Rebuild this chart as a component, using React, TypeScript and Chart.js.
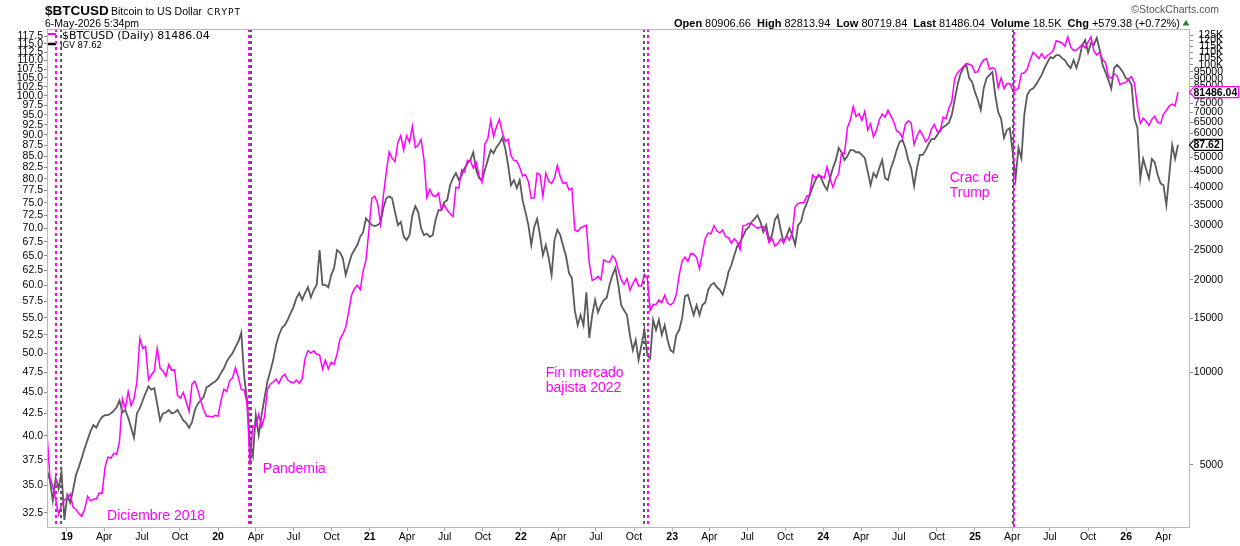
import React, { useEffect, useRef } from 'react';
import { Chart, registerables } from 'chart.js';

Chart.register(...registerables);

const FONT = "'Liberation Sans', Arial, Helvetica, sans-serif";
const LEGEND_FONT = "'DejaVu Sans', Verdana, sans-serif";
const MAGENTA = '#ff00ff';
const DARK = '#5a5a5a';

// ---- data ----
const START_DATE = '2018-11-14';
const STEP_DAYS = 7;

// $BTCUSD weekly closes
const btcValues = [
  6350, 4550, 4250, 3850, 3450, 3700, 3850,
  3900, 4020, 3640, 3580, 3470, 3400, 3590, 3950, 3820, 3870, 3870, 4050, 4040,
  4900, 5300, 5250, 5450, 5400, 5950, 8200, 7650, 8650, 7800, 8200, 9300, 12900,
  11950, 12100, 9450, 9800, 10100, 11950, 10300, 10100, 9700, 10600, 10150, 10200, 8400,
  8250, 8600, 8000, 7450, 9150, 9350, 8750, 8100, 7550, 7200, 7200, 7150, 7250,
  7200, 8100, 8800, 8650, 9400, 9600, 10350, 9600, 8800, 8760, 7900, 5000, 6700,
  6650, 7300, 6650, 7150, 8800, 9150, 9300, 9500, 9200, 9650, 9850, 9450, 9300,
  9230, 9430, 9200, 9550, 11100, 11750, 11550, 11750, 11450, 11400, 10250, 10950, 10250,
  10780, 10600, 11450, 12800, 13300, 14000, 15700, 17800, 18700, 19200, 18550, 21300, 23250,
  28900,
  36800, 37400, 35500, 30400, 37600, 44800, 52100, 49700, 48400, 55900, 58900, 52800,
  58800, 56000, 63100, 53800, 54800, 57200, 49200, 37000, 39300, 37600, 37300, 38300, 33700,
  35000, 33700, 32800, 32100, 40000, 39700, 45600, 44800, 48900, 48800, 46100, 48100, 43500,
  41500, 55300, 57400, 65900, 58400, 62900, 66500, 60300, 56300, 57200, 50600, 48900, 48600,
  46400,
  43500, 43900, 41700, 36800, 36900, 44400, 43900, 37300, 44400, 41900, 41100, 42900,
  47100, 43200, 41100, 41500, 39200, 39700, 29000, 28700, 29500, 29800, 30100, 22600, 19900,
  20100, 20500, 20000, 23200, 22900, 22800, 23900, 23300, 21500, 20000, 19300, 20200, 18500,
  19400, 20200, 19100, 19100, 20800, 20200, 15900, 16600, 16600, 17200, 16850, 17800, 16800,
  16550,
  16850, 17900, 20700, 23000, 23700, 22950, 24300, 24200, 23600, 21700, 24400, 27300,
  28350, 28200, 30000, 28800, 28400, 29000, 27600, 27400, 26300, 27200, 26500, 25100, 30000,
  30100, 30500, 30400, 29900, 29400, 29700, 29800, 28700, 26400, 27300, 25750, 26200, 27100,
  26350, 27800, 26900, 28400, 34500, 35400, 35600, 35600, 37400, 37800, 43800, 42900, 43700,
  43400,
  42800, 46600, 42700, 40000, 42600, 44300, 51800, 51300, 62400, 66100, 73100, 67900,
  69400, 66000, 70600, 61300, 64300, 58300, 61200, 66300, 69200, 67600, 71100, 68200, 65200,
  60800, 60200, 57800, 64100, 65800, 64600, 55100, 58700, 61200, 59000, 56200, 57600, 61800,
  64000, 60600, 60600, 67600, 66700, 72300, 75900, 90500, 94300, 96400, 98800, 101100, 100200,
  99400,
  94400, 95000, 100500, 103700, 104700, 96600, 97900, 96600, 84300, 90600, 83700, 86900,
  86900, 82500, 82600, 84000, 93700, 94200, 96800, 103500, 109700, 107800, 104700, 108700, 104900,
  107300, 108800, 111300, 119800, 118800, 117800, 114900, 123300, 114300, 111200, 111700, 113900, 116500,
  113300, 118600, 123300, 111000, 107600, 110000, 103900, 101600, 91500, 90500, 93400, 92000, 86200,
  87300, 87500,
  90000, 91500, 87000, 73000, 64500, 67000, 65500, 63500, 66500, 68000, 65000, 64500, 69000,
  71000, 73500, 74500, 73500, 81486.04,
];

// IGV weekly closes
const igvValues = [
  36.4, 35.5, 33.6, 35.7, 34.7, 36.3, 31.9,
  34.1, 33.4, 34.6, 36.0, 36.8, 37.7, 38.7, 39.6, 40.5, 41.2, 40.9, 41.6, 42.1,
  42.3, 42.3, 42.5, 42.8, 43.2, 44.0, 42.6, 42.9, 42.0, 40.9, 39.8, 42.5, 43.1,
  44.0, 44.9, 45.7, 45.3, 45.5, 43.6, 41.7, 42.5, 42.6, 42.9, 42.5, 42.6, 42.9,
  42.3, 41.7, 41.4, 40.9, 41.5, 42.9, 43.6, 44.0, 44.4, 45.6, 45.8, 46.1, 46.3,
  46.7, 47.4, 48.0, 48.9, 49.5, 50.0, 50.8, 51.6, 52.8, 47.0, 44.0, 39.3, 37.9,
  42.3, 40.1, 42.3, 44.3, 46.3, 47.6, 49.1, 51.1, 52.5, 53.5, 53.9, 54.7, 55.7,
  56.6, 58.0, 58.8, 57.7, 58.8, 59.7, 58.1, 59.3, 60.1, 66.0, 60.1, 60.1, 59.7,
  61.7, 62.9, 66.0, 65.6, 64.6, 61.7, 63.4, 65.1, 66.0, 66.9, 68.4, 69.2, 71.9,
  71.2, 70.6, 70.4, 70.6, 71.0, 73.9, 75.9, 76.3, 75.9, 73.1, 70.6, 71.2, 68.5,
  67.8, 68.7, 72.5, 74.3, 73.1, 70.0, 68.7, 69.0, 68.4, 68.7, 71.6, 73.5, 73.5,
  75.1, 75.5, 78.6, 80.1, 81.2, 79.7, 80.8, 82.3, 83.4, 84.1, 85.9, 81.9, 80.1,
  79.7, 81.9, 84.1, 86.4, 85.7, 87.1, 88.0, 89.3, 86.9, 83.0, 78.6, 79.7, 78.0,
  79.7, 75.5, 73.1, 70.6, 66.9, 70.2, 71.8, 68.7, 65.1, 66.9, 64.6, 61.7, 67.8,
  69.7, 68.7, 66.7, 64.9, 62.0, 61.2, 56.1, 53.9, 55.4, 53.9, 58.9, 52.1, 55.4,
  57.7, 55.8, 56.9, 57.7, 58.0, 60.1, 61.7, 62.9, 60.1, 56.9, 56.1, 55.4, 52.5,
  50.4, 51.8, 49.1, 51.1, 53.2, 49.7, 49.3, 54.7, 53.2, 54.7, 52.5, 53.9, 51.8,
  50.4, 50.1, 52.5, 53.2, 54.9, 58.3, 58.5, 56.9, 55.4, 56.9, 55.4, 56.9, 57.3,
  59.3, 60.1, 60.4, 59.7, 59.3, 58.5, 60.1, 62.2, 63.4, 65.1, 66.7, 67.4, 68.5,
  69.7, 70.2, 71.2, 71.8, 72.5, 71.2, 69.3, 70.6, 67.8, 68.7, 71.6, 72.5, 69.7,
  67.4, 68.5, 70.0, 68.7, 66.9, 70.6, 71.2, 73.5, 74.9, 76.5, 78.2, 79.7, 80.8,
  80.1, 78.6, 77.6, 80.1, 82.3, 84.1, 86.9, 85.9, 84.1, 85.0, 86.4, 86.4, 85.9,
  85.9, 85.3, 84.6, 81.6, 78.6, 81.2, 80.3, 82.3, 84.1, 80.1, 79.7, 82.3, 84.1,
  86.4, 88.3, 88.8, 86.9, 84.1, 82.3, 78.4, 82.3, 85.3, 85.3, 86.4, 87.8, 89.0,
  89.0, 90.0, 91.2, 91.9, 92.4, 93.0, 95.0, 98.9, 103.0, 106.1, 107.8, 108.7, 104.9,
  103.8, 101.0, 98.9, 96.3, 102.0, 104.9, 105.8, 106.6, 100.2, 95.7, 94.0, 89.3, 91.2,
  91.7, 86.0, 80.0, 87.0, 84.5, 95.0, 100.2, 101.6, 102.0, 103.0, 104.4, 105.8, 107.8,
  109.5, 111.0, 110.7, 111.6, 111.6, 110.7, 110.1, 108.7, 107.8, 110.1, 107.8, 110.7, 114.7,
  116.2, 112.4, 115.3, 114.7, 116.9, 113.2, 108.7, 106.6, 104.4, 102.0, 107.8, 108.7, 107.8,
  106.6, 104.9,
  104.4, 103.0, 94.0, 91.7, 80.0, 84.4, 82.1, 80.0, 84.4, 83.6, 80.8, 79.0, 78.6,
  74.5, 80.8, 87.6, 84.4, 87.62,
];

const xTickDates = [
  '2019-01-01', '2019-04-01', '2019-07-01', '2019-10-01',
  '2020-01-01', '2020-04-01', '2020-07-01', '2020-10-01',
  '2021-01-01', '2021-04-01', '2021-07-01', '2021-10-01',
  '2022-01-01', '2022-04-01', '2022-07-01', '2022-10-01',
  '2023-01-01', '2023-04-01', '2023-07-01', '2023-10-01',
  '2024-01-01', '2024-04-01', '2024-07-01', '2024-10-01',
  '2025-01-01', '2025-04-01', '2025-07-01', '2025-10-01',
  '2026-01-01', '2026-04-01',
];
const xTickLabels = [
  '19', 'Apr', 'Jul', 'Oct', '20', 'Apr', 'Jul', 'Oct', '21', 'Apr', 'Jul', 'Oct',
  '22', 'Apr', 'Jul', 'Oct', '23', 'Apr', 'Jul', 'Oct', '24', 'Apr', 'Jul', 'Oct',
  '25', 'Apr', 'Jul', 'Oct', '26', 'Apr',
];
const leftTicks = [
  32.5, 35, 37.5, 40, 42.5, 45, 47.5, 50, 52.5, 55, 57.5, 60, 62.5, 65, 67.5, 70, 72.5,
  75, 77.5, 80, 82.5, 85, 87.5, 90, 92.5, 95, 97.5, 100, 102.5, 105, 107.5, 110, 112.5, 115, 117.5,
];
const rightTicks = [
  5000, 10000, 15000, 20000, 25000, 30000, 35000, 40000, 45000, 50000, 55000, 60000, 65000,
  70000, 75000, 80000, 85000, 90000, 95000, 100000, 105000, 110000, 115000, 120000, 125000,
];

const eventLines = [
  { date: '2018-12-05', color: MAGENTA, offset: 0 },
  { date: '2018-12-17', color: DARK, offset: 0 },
  { date: '2020-03-16', color: MAGENTA, offset: 0 },
  { date: '2020-03-20', color: DARK, offset: 0 },
  { date: '2022-10-25', color: DARK, offset: 0 },
  { date: '2022-11-03', color: MAGENTA, offset: 0 },
  { date: '2025-04-03', color: DARK, offset: 0 },
  { date: '2025-04-04', color: MAGENTA, offset: 3 },
];

const annotations = [
  { date: '2019-04-08', btc: 3410, lines: ['Diciembre 2018'] },
  { date: '2020-04-18', btc: 4848, lines: ['Pandemia'] },
  { date: '2022-03-02', btc: 9948, lines: ['Fin mercado', 'bajista 2022'] },
  { date: '2024-11-01', btc: 42840, lines: ['Crac de', 'Trump'] },
];

const headerStats = [
  ['Open', '80906.66'], ['High', '82813.94'], ['Low', '80719.84'],
  ['Last', '81486.04'], ['Volume', '18.5K'], ['Chg', '+579.38 (+0.72%)'],
];

// ---- helpers ----
const EPOCH = Date.UTC(2019, 0, 1);
function dayOf(iso: string): number {
  const [y, m, d] = iso.split('-').map(Number);
  return Math.round((Date.UTC(y, m - 1, d) - EPOCH) / 86400000);
}
const startDay = dayOf(START_DATE);
const weekDays = btcValues.map((_, i) => startDay + i * STEP_DAYS);
const X_MIN = dayOf('2018-11-14');
const X_MAX = dayOf('2026-06-04');

const lastBtc = btcValues[btcValues.length - 1];
const lastIgv = igvValues[igvValues.length - 1];

function drawValueBox(ctx: CanvasRenderingContext2D, y: number, x0: number, x1: number, text: string, color: string) {
  const h = 5.5;
  ctx.beginPath();
  ctx.moveTo(x0, y);
  ctx.lineTo(x0 + 5, y - h);
  ctx.lineTo(x1, y - h);
  ctx.lineTo(x1, y + h);
  ctx.lineTo(x0 + 5, y + h);
  ctx.closePath();
  ctx.fillStyle = '#ffffff';
  ctx.fill();
  ctx.strokeStyle = color;
  ctx.lineWidth = 1.2;
  ctx.setLineDash([]);
  ctx.stroke();
  ctx.fillStyle = '#000';
  ctx.font = `bold 10.5px ${FONT}`;
  ctx.textAlign = 'left';
  ctx.textBaseline = 'middle';
  ctx.fillText(text, x0 + 4, y + 0.5);
}

const overlayPlugin = {
  id: 'overlay',
  afterDatasetsDraw(chart: any) {
    const { ctx, chartArea: a, scales } = chart;
    const sx = scales.x;
    const yR = scales.yR;
    ctx.save();
    // legend
    ctx.setLineDash([]);
    ctx.lineWidth = 2;
    ctx.strokeStyle = MAGENTA;
    ctx.beginPath(); ctx.moveTo(48, 34); ctx.lineTo(56, 34); ctx.stroke();
    ctx.lineWidth = 2.5;
    ctx.strokeStyle = '#000';
    ctx.beginPath(); ctx.moveTo(48, 44); ctx.lineTo(56, 44); ctx.stroke();
    ctx.fillStyle = '#000';
    ctx.textAlign = 'left';
    ctx.textBaseline = 'alphabetic';
    ctx.font = `11px ${LEGEND_FONT}`;
    ctx.fillText(`$BTCUSD (Daily) ${lastBtc.toFixed(2)}`, 62, 39);
    ctx.font = `8.5px ${LEGEND_FONT}`;
    ctx.fillText(`IGV ${lastIgv.toFixed(2)}`, 60, 48);

    // event lines
    ctx.lineWidth = 2;
    ctx.setLineDash([3, 3]);
    for (const ev of eventLines) {
      const px = Math.round(sx.getPixelForValue(dayOf(ev.date)));
      ctx.strokeStyle = ev.color;
      ctx.lineDashOffset = ev.offset;
      ctx.beginPath();
      ctx.moveTo(px, a.top);
      ctx.lineTo(px, a.bottom);
      ctx.stroke();
    }
    ctx.setLineDash([]);
    ctx.lineDashOffset = 0;

    // annotations
    ctx.fillStyle = MAGENTA;
    ctx.font = `14px ${FONT}`;
    ctx.textAlign = 'left';
    ctx.textBaseline = 'middle';
    for (const an of annotations) {
      const px = sx.getPixelForValue(dayOf(an.date));
      const py = yR.getPixelForValue(an.btc);
      an.lines.forEach((t, k) => ctx.fillText(t, px, py + k * 15));
    }
    ctx.restore();
  },
  afterDraw(chart: any) {
    const { ctx, chartArea: a, scales } = chart;
    const yL = scales.yL;
    const yR = scales.yR;
    ctx.save();
    // plot border
    ctx.strokeStyle = '#b8b8b8';
    ctx.lineWidth = 1;
    ctx.setLineDash([]);
    ctx.strokeRect(a.left + 0.5, a.top + 0.5, a.right - a.left - 1, a.bottom - a.top - 1);

    // last value boxes
    drawValueBox(ctx, yR.getPixelForValue(lastBtc), 1189.5, 1238.5, lastBtc.toFixed(2), MAGENTA);
    drawValueBox(ctx, yL.getPixelForValue(lastIgv), 1189.5, 1222.5, lastIgv.toFixed(2), '#000');

    // header left
    ctx.fillStyle = '#000';
    ctx.textAlign = 'left';
    ctx.textBaseline = 'alphabetic';
    ctx.font = `bold 13.5px ${FONT}`;
    ctx.fillText('$BTCUSD', 45, 14.5);
    ctx.font = `10.5px ${FONT}`;
    ctx.fillText('Bitcoin to US Dollar', 111, 14.5);
    ctx.font = `9px ${LEGEND_FONT}`;
    let cx = 207;
    for (const ch of 'CRYPT') {
      ctx.fillText(ch, cx, 14.5);
      cx += ctx.measureText(ch).width + 1;
    }
    ctx.font = `10.5px ${FONT}`;
    ctx.fillText('6-May-2026 5:34pm', 45, 26.5);

    // header right
    ctx.fillStyle = '#555';
    ctx.font = `10.5px ${FONT}`;
    ctx.textAlign = 'right';
    ctx.fillText('\u00A9StockCharts.com', 1219, 13);

    ctx.fillStyle = '#000';
    ctx.textAlign = 'left';
    const boldF = `bold 11px ${FONT}`;
    const normF = `11px ${FONT}`;
    let natural = 0;
    const widths = headerStats.map(([k, v]) => {
      ctx.font = boldF; const kw = ctx.measureText(k).width;
      ctx.font = normF; const vw = ctx.measureText(v).width;
      natural += kw + 3 + vw;
      return [kw, vw];
    });
    const startX = 674;
    const endX = 1180;
    const gap = Math.max(5, (endX - startX - natural) / (headerStats.length - 1));
    let hx = endX - natural - gap * (headerStats.length - 1);
    headerStats.forEach(([k, v], i) => {
      ctx.font = boldF; ctx.fillText(k, hx, 26.5);
      hx += widths[i][0] + 3;
      ctx.font = normF; ctx.fillText(v, hx, 26.5);
      hx += widths[i][1] + gap;
    });
    ctx.fillStyle = '#2e7d32';
    ctx.beginPath();
    ctx.moveTo(1182.5, 25.5);
    ctx.lineTo(1189.5, 25.5);
    ctx.lineTo(1186, 20);
    ctx.closePath();
    ctx.fill();
    ctx.restore();
  },
};

export default function App() {
  const ref = useRef<HTMLCanvasElement>(null);
  useEffect(() => {
    document.body.style.margin = '0';
    const canvas = ref.current;
    if (!canvas) return;
    const chart = new Chart(canvas, {
      type: 'line',
      data: {
        datasets: [
          {
            label: '$BTCUSD',
            data: weekDays.map((d, i) => ({ x: d, y: btcValues[i] })),
            yAxisID: 'yR',
            borderColor: MAGENTA,
            borderWidth: 1.5,
            pointRadius: 0,
            tension: 0,
            fill: false,
          },
          {
            label: 'IGV',
            data: weekDays.map((d, i) => ({ x: d, y: igvValues[i] })),
            yAxisID: 'yL',
            borderColor: DARK,
            borderWidth: 1.8,
            pointRadius: 0,
            tension: 0,
            fill: false,
          },
        ],
      },
      options: {
        responsive: false,
        animation: false,
        events: [],
        layout: { padding: { top: 29, right: 17, left: 0, bottom: 0 } },
        plugins: {
          legend: { display: false },
          tooltip: { enabled: false },
          title: { display: false },
        },
        scales: {
          x: {
            type: 'linear',
            min: X_MIN,
            max: X_MAX,
            bounds: 'data',
            afterBuildTicks: (s: any) => { s.ticks = xTickDates.map((d) => ({ value: dayOf(d) })); },
            afterFit: (s: any) => { s.height = 18; },
            grid: { display: true, drawOnChartArea: false, drawTicks: true, tickLength: 3, color: '#aaa', tickColor: '#aaa' },
            border: { display: false },
            ticks: {
              autoSkip: false,
              maxRotation: 0,
              minRotation: 0,
              padding: 0,
              color: '#000',
              font: (c: any) => ({ family: FONT, size: 10.5, weight: c.index % 4 === 0 ? 'bold' : 'normal' }),
              callback: (_v: any, i: number) => xTickLabels[i],
            },
          },
          yL: {
            type: 'logarithmic',
            position: 'left',
            min: 31.21,
            max: 119.74,
            bounds: 'data',
            afterBuildTicks: (s: any) => { s.ticks = leftTicks.map((v) => ({ value: v })); },
            afterFit: (s: any) => { s.width = 47; },
            grid: { drawOnChartArea: false, drawTicks: true, tickLength: 3, color: '#888', tickColor: '#888' },
            border: { display: false },
            ticks: {
              autoSkip: false,
              padding: 1,
              color: '#000',
              font: { family: FONT, size: 10.5 },
              callback: (v: any) => Number(v).toFixed(1),
            },
          },
          yR: {
            type: 'logarithmic',
            position: 'right',
            min: 3116,
            max: 130750,
            bounds: 'data',
            afterBuildTicks: (s: any) => { s.ticks = rightTicks.map((v) => ({ value: v })); },
            afterFit: (s: any) => { s.width = 33; },
            grid: { drawOnChartArea: false, drawTicks: true, tickLength: 3, color: '#888', tickColor: '#888' },
            border: { display: false },
            ticks: {
              autoSkip: false,
              padding: 1,
              crossAlign: 'far',
              color: '#000',
              font: { family: FONT, size: 10.5 },
              callback: (v: any) => (Number(v) >= 100000 ? `${Number(v) / 1000}K` : String(v)),
            },
          },
        },
      },
      plugins: [overlayPlugin],
    } as any);
    return () => chart.destroy();
  }, []);
  return (
    <div style={{ width: 1240, height: 546, background: '#fff' }}>
      <canvas ref={ref} width={1240} height={546} style={{ display: 'block', width: 1240, height: 546 }} />
    </div>
  );
}
